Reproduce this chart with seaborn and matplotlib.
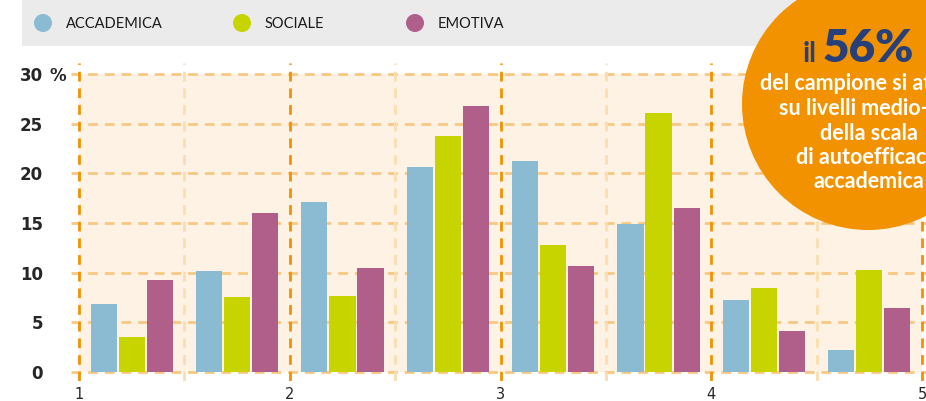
import numpy as np
import pandas as pd
import matplotlib
matplotlib.use("Agg")
import matplotlib.pyplot as plt
from matplotlib.patches import Rectangle, Circle
from matplotlib.transforms import blended_transform_factory
import seaborn as sns

# --- data ---
bin_centers = [1.25, 1.75, 2.25, 2.75, 3.25, 3.75, 4.25, 4.75]
categorie = ["ACCADEMICA", "SOCIALE", "EMOTIVA"]
accademica = [6.8, 10.2, 17.1, 20.6, 21.2, 14.9, 7.3, 2.2]
sociale = [3.5, 7.6, 7.7, 23.8, 12.8, 26.1, 8.5, 10.3]
emotiva = [9.3, 16.0, 10.5, 26.8, 10.7, 16.5, 4.1, 6.4]
x_ticks = [1, 2, 3, 4, 5]
y_ticks = [0, 5, 10, 15, 20, 25, 30]
circle_lines = ["del campione si attesta", "su livelli medio-alti",
                "della scala", "di autoefficacia", "accademica"]

colori = {"ACCADEMICA": "#8BBAD3", "SOCIALE": "#C8D400", "EMOTIVA": "#B05F8A"}
ORANGE = "#F39200"
CREAM = "#FDF2E3"
HGRID = "#F8C883"
MINOR = "#FBDDB0"
NAVY = "#27407A"
NARROW = ["Liberation Sans Narrow", "DejaVu Sans"]

df = pd.DataFrame({
    "bin": bin_centers * 3,
    "categoria": np.repeat(categorie, len(bin_centers)),
    "valore": accademica + sociale + emotiva,
})

sns.set_style("white")
plt.rcParams["font.family"] = ["Lato", "DejaVu Sans"]

W, H = 926, 401
fig = plt.figure(figsize=(W / 100, H / 100), dpi=100)

# main axes placed in pixel space: x 71..926, y 63..381 (from top)
ax = fig.add_axes([71 / W, 1 - 381 / H, (926 - 71) / W, (381 - 63) / H])
x0 = 1 + (71 - 79) / 210.75
x1 = 1 + (926 - 79) / 210.75
y0 = -(381 - 372) / 9.93
y1 = (372 - 63) / 9.93

# cream plotting area
ax.add_patch(Rectangle((1, 0), 4, 30, facecolor=CREAM, edgecolor="none", zorder=0.1))

# dashed grid
ax.hlines(y_ticks, x0, x1, colors=HGRID, linestyles=(0, (3.5, 2.5)), linewidth=2, zorder=0.5)
ax.vlines([1.5, 2.5, 3.5, 4.5], y0, y1, colors=MINOR, linestyles=(0, (3.5, 2.5)), linewidth=2, zorder=0.5)
ax.vlines(x_ticks, y0, y1, colors=ORANGE, linestyles=(0, (3.5, 2.5)), linewidth=2, zorder=0.6)

sns.barplot(data=df, x="bin", y="valore", hue="categoria", hue_order=categorie,
            palette=colori, native_scale=True, width=0.8, gap=0.07,
            saturation=1, linewidth=0, errorbar=None, legend=False, ax=ax)
for p in ax.patches[1:]:
    p.set_zorder(2)

ax.set_xlim(x0, x1)
ax.set_ylim(y0, y1)
ax.set_xlabel("")
ax.set_ylabel("")
sns.despine(ax=ax, left=True, bottom=True)

ax.set_xticks(x_ticks, [str(t) for t in x_ticks])
ax.set_yticks(y_ticks, [str(t) for t in y_ticks])
ax.tick_params(axis="x", length=0, pad=4.5, labelsize=10.5)
ax.tick_params(axis="y", length=0, pad=20, labelsize=12)
for lab in ax.get_xticklabels():
    lab.set_fontfamily(NARROW)
for lab in ax.get_yticklabels():
    lab.set_fontfamily(NARROW)
    lab.set_fontweight("bold")

# overlay axes in pixel coordinates for legend band and callout circle
ov = fig.add_axes([0, 0, 1, 1], zorder=5)
ov.set_xlim(0, W)
ov.set_ylim(H, 0)
ov.axis("off")

trans = blended_transform_factory(ov.transData, ax.transData)
ax.text(49, 30, "%", transform=trans, ha="left", va="center_baseline", fontsize=12,
        fontweight="bold", family=NARROW)

# legend band
ov.add_patch(Rectangle((22, 0), W - 22, 46, facecolor="#EBEBEB", edgecolor="none", zorder=1))
leg_x = [43, 242, 415]
for cx, cat in zip(leg_x, categorie):
    ov.add_patch(Circle((cx, 23), 9, facecolor=colori[cat], edgecolor="none", zorder=2))
    ov.text(cx + 23, 23.5, cat, ha="left", va="center", fontsize=10.5, color="#1A1A1A", zorder=2)

# orange callout
ov.add_patch(Circle((868, 104), 126, facecolor=ORANGE, edgecolor="none", zorder=3))
ov.text(817, 62, "il", ha="right", va="baseline", fontsize=20, fontweight="bold", color=NAVY, zorder=4)
ov.text(823, 62, "56%", ha="left", va="baseline", fontsize=33, fontweight="heavy", color=NAVY, zorder=4)
for i, line in enumerate(circle_lines):
    ov.text(869, 84 + i * 24.5, line, ha="center", va="center", fontsize=15.5,
            fontweight="bold", color="white", zorder=4)

fig.savefig("out.png", dpi=100)
